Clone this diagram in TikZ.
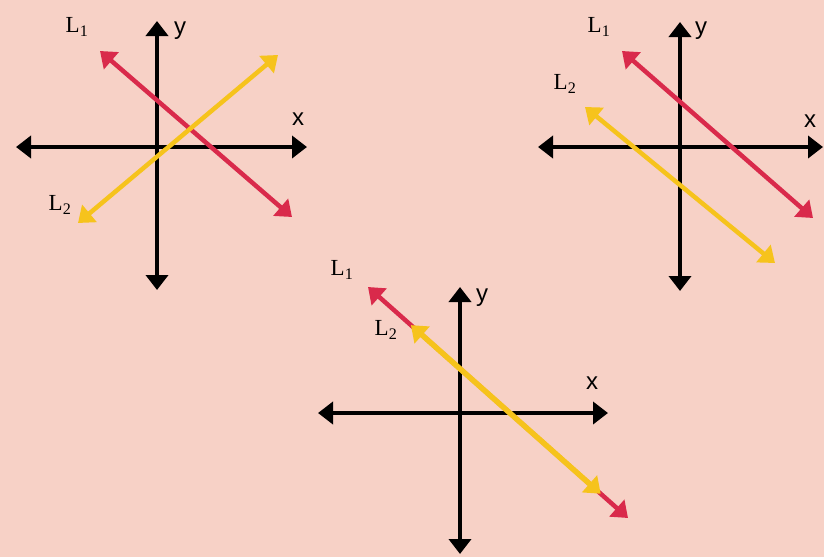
\documentclass[tikz,border=0pt]{standalone}
\usepackage{fontspec}
\setmainfont{Liberation Serif}
\setsansfont{Liberation Sans}
\usetikzlibrary{arrows.meta,calc}
\definecolor{bg}{HTML}{F7D1C6}
\definecolor{lred}{HTML}{D92A4B}
\definecolor{lyel}{HTML}{F6C31C}
\tikzset{
  tips/.style={{Triangle[length=15pt,width=22pt]}-{Triangle[length=15pt,width=22pt]}},
  axis/.style={line width=4.5pt, black, tips},
  redline/.style={line width=4.5pt, lred, tips},
  yelline/.style={line width=4.5pt, lyel, tips},
  axlab/.style={font=\sffamily\fontsize{24}{24}\selectfont, inner sep=0pt},
  llab/.style={font=\fontsize{23}{23}\selectfont, inner sep=0pt}
}
\begin{document}
\begin{tikzpicture}[x=1pt,y=-1pt]
\fill[bg] (0,0) rectangle (824,557);
\useasboundingbox (0,0) rectangle (824,557);
% panel 1
\coordinate (a1l) at (16,147); \coordinate (a1r) at (307,147);
\coordinate (a1t) at (157,21); \coordinate (a1b) at (157,290);
\draw[axis] (a1l) -- (a1r);
\draw[axis] (a1t) -- (a1b);
\coordinate (r1a) at (100,51); \coordinate (r1b) at (292,217);
\coordinate (y1a) at (78,223); \coordinate (y1b) at (278,55);
\draw[redline] (r1a) -- (r1b);
\draw[yelline] (y1a) -- (y1b);
\node[axlab] (y1) at (180,31) {y};
\node[axlab] (x1) at (298,119) {x};
\node[llab] (l11) at (77,27) {L\textsubscript{1}};
\node[llab] (l21) at (60,205) {L\textsubscript{2}};
% panel 2
\coordinate (a2l) at (538,147); \coordinate (a2r) at (823,147);
\coordinate (a2t) at (680,22); \coordinate (a2b) at (680,291);
\draw[axis] (a2l) -- (a2r);
\draw[axis] (a2t) -- (a2b);
\coordinate (r2a) at (622,51); \coordinate (r2b) at (813,218);
\coordinate (y2a) at (585,107); \coordinate (y2b) at (775,263);
\draw[redline] (r2a) -- (r2b);
\draw[yelline] (y2a) -- (y2b);
\node[axlab] (y2) at (701,31) {y};
\node[axlab] (x2) at (810,121) {x};
\node[llab] (l12) at (599,27) {L\textsubscript{1}};
\node[llab] (l22) at (565,84) {L\textsubscript{2}};
% panel 3
\coordinate (a3l) at (318,413); \coordinate (a3r) at (608,413);
\coordinate (a3t) at (460,287); \coordinate (a3b) at (460,554);
\draw[axis] (a3l) -- (a3r);
\draw[axis] (a3t) -- (a3b);
\coordinate (r3a) at (368,287); \coordinate (r3b) at (628,518);
\coordinate (y3a) at ($(r3a)!0.165!(r3b)$); \coordinate (y3b) at ($(r3a)!0.895!(r3b)$);
\draw[redline] (r3a) -- (r3b);
\draw[yelline, line width=5.5pt] (y3a) -- (y3b);
\node[axlab] (y3) at (482,298) {y};
\node[axlab] (x3) at (592,383) {x};
\node[llab] (l13) at (342,270) {L\textsubscript{1}};
\node[llab] (l23) at (386,330) {L\textsubscript{2}};
\end{tikzpicture}
\end{document}
